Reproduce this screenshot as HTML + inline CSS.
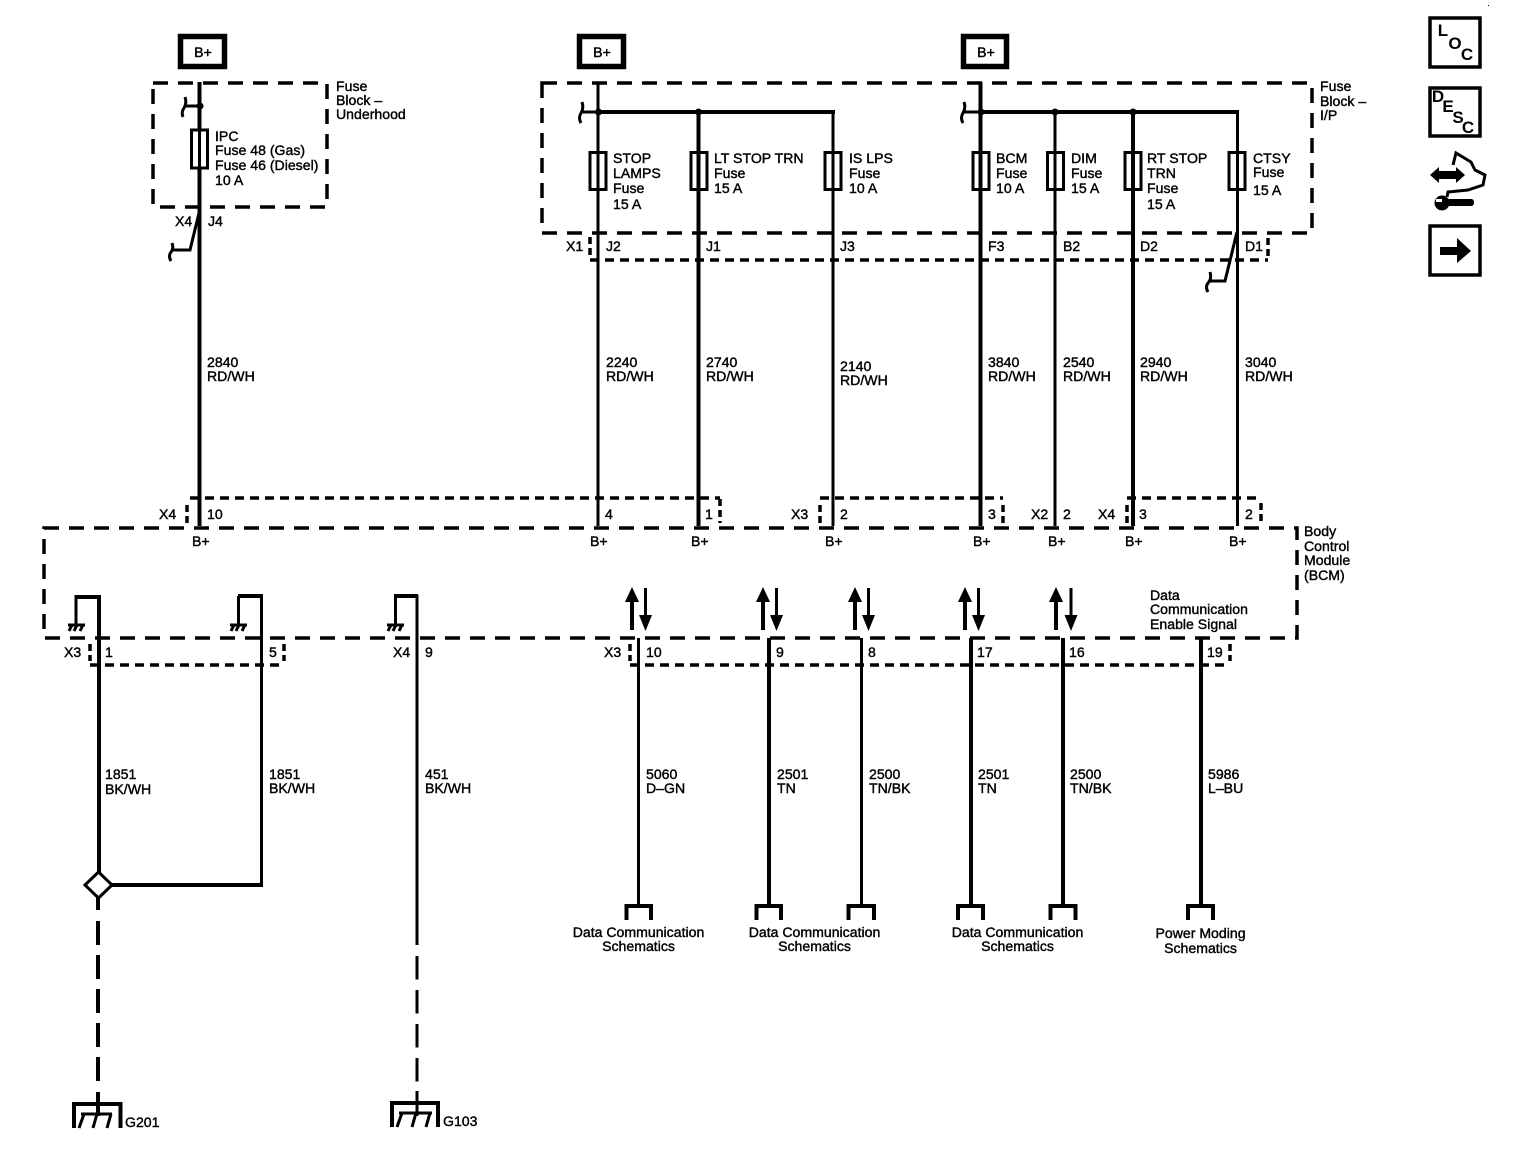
<!DOCTYPE html>
<html><head><meta charset="utf-8"><style>
html,body{margin:0;padding:0;background:#fff}
svg{display:block}
text{font-family:"Liberation Sans",sans-serif;font-size:14.1px;fill:#000;stroke:#000;stroke-width:.4}
.c{text-anchor:middle}
.w{fill:none;stroke:#000;stroke-width:3.5}
.t{fill:none;stroke:#000;stroke-width:4}
.n{fill:none;stroke:#000;stroke-width:3}
.d{fill:none;stroke:#000;stroke-width:3.5;stroke-dasharray:15 10}
.s{fill:none;stroke:#000;stroke-width:3.5;stroke-dasharray:9 6}
.k{fill:none;stroke:#000;stroke-width:3.5;stroke-dasharray:7 4}
.f{fill:#fff;stroke:#000;stroke-width:3}
.b{fill:#fff;stroke:#000;stroke-width:5.5}
.i{fill:#fff;stroke:#000;stroke-width:3.5}
.l{font-size:17px;font-weight:bold;stroke-width:0}
</style></head><body>
<svg width="1520" height="1160" viewBox="0 0 1520 1160" xmlns="http://www.w3.org/2000/svg">
<rect width="1520" height="1160" fill="#fff"/>

<!-- B+ boxes -->
<rect class="b" x="180.500" y="36.500" width="44" height="30"/>
<rect class="b" x="579.500" y="36.500" width="44" height="30"/>
<rect class="b" x="963.500" y="36.500" width="43" height="30"/>
<text class="c" x="203" y="57">B+</text>
<text class="c" x="602" y="57">B+</text>
<text class="c" x="986" y="57">B+</text>

<!-- Fuse blocks -->
<rect class="d" x="153" y="83" width="174" height="124"/>
<rect class="d" x="542" y="83" width="770" height="150"/>

<!-- BCM -->
<rect class="d" x="44" y="528" width="1253" height="110"/>

<!-- Connectors top -->
<path class="s" d="M590 260H1268"/>
<path class="k" d="M590 237V258M1268 238V260"/>
<path class="s" d="M190 498H720"/>
<path class="k" d="M187 505V523M720 499V523"/>
<path class="s" d="M820 498H1003"/>
<path class="k" d="M820 505V523M1003 505V523"/>
<path class="s" d="M1127 498H1261"/>
<path class="k" d="M1127 505V523M1261 503V521"/>

<!-- Connectors bottom -->
<path class="s" d="M90 665H285"/>
<path class="k" d="M90 644V661M284 644V661"/>
<path class="s" d="M630 665H1230"/>
<path class="k" d="M630 644V661M1230 644V661"/>

<!-- Wires upper -->
<path class="t" d="M199.500 82V526"/>
<path class="n" d="M598 82V526"/>
<path class="t" d="M698.500 112V526"/>
<path class="n" d="M833 112V526"/>
<path class="t" d="M980.500 82V526"/>
<path class="n" d="M1055 112V526"/>
<path class="t" d="M1133 112V526"/>
<path class="n" d="M1237.500 112V526"/>
<path class="t" d="M598 112H835M980 112H1239"/>

<!-- junctions -->
<circle cx="200" cy="106" r="3.500"/>
<circle cx="598.500" cy="112" r="3.500"/>
<circle cx="698.500" cy="112" r="3.500"/>
<circle cx="981" cy="112" r="3.500"/>
<circle cx="1055" cy="112" r="3.500"/>
<circle cx="1133" cy="112" r="3.500"/>

<!-- hooks -->
<path class="n" d="M200 106H185M185 97Q187 103 184 108Q181 112 183 117"/>
<path class="n" d="M598 112H581M582 102Q584 108 581 113Q578 118 581 123"/>
<path class="n" d="M980 112H963M964 102Q966 108 963 113Q960 118 963 123"/>
<path class="n" d="M200 209L190 250H172M172 243Q174 249 171 252Q168 256 171 261"/>
<path class="n" d="M1237 232L1225 281H1209M1210 272Q1212 279 1208 283Q1205 287 1208 292"/>

<!-- Fuses -->
<rect class="f" x="191.500" y="130" width="16" height="38"/><path class="n" d="M199.500 128V170"/>
<rect class="f" x="590" y="152.500" width="16" height="37"/><path class="n" d="M598 150V192"/>
<rect class="f" x="691" y="152.500" width="16" height="37"/><path class="t" d="M698.500 150V192"/>
<rect class="f" x="825" y="152.500" width="16" height="37"/><path class="n" d="M833 150V192"/>
<rect class="f" x="973" y="152.500" width="16" height="37"/><path class="t" d="M980.500 150V192"/>
<rect class="f" x="1047.500" y="152.500" width="16" height="37"/><path class="n" d="M1055 150V192"/>
<rect class="f" x="1125" y="152.500" width="16" height="37"/><path class="t" d="M1133 150V192"/>
<rect class="f" x="1229" y="152.500" width="16" height="37"/><path class="n" d="M1237.500 150V192"/>

<!-- Ground wires -->
<path class="t" d="M99 597H74.500"/>
<path class="n" d="M76 596V624"/>
<path class="t" d="M99 595V873"/>
<path class="n" d="M261.500 595V885"/>
<path class="t" d="M263 596H238"/>
<path class="n" d="M238.500 596V624"/>
<path class="n" d="M417 595V945"/>
<path class="t" d="M418 596H394"/>
<path class="n" d="M395.500 596V624"/>
<path class="n" d="M417 956V1082" stroke-dasharray="23.500 10.500"/>
<path class="n" d="M417 1091V1116"/>
<path class="t" d="M110 885H263"/>
<path class="t" d="M98 896V910"/>
<path class="t" d="M98 921V1082" stroke-dasharray="24 10"/>
<path class="t" d="M98 1092V1116"/>
<path class="f" d="M98.500 872L112 885L98.500 898L85 885Z"/>

<!-- inner ground symbols -->
<path class="n" d="M68 625H85M72 625L69 631M77 625L74 631M83 625L80 631"/>
<path class="n" d="M230 625H247M234 625L231 631M239 625L236 631M245 625L242 631"/>
<path class="n" d="M387 625H404M391 625L388 631M396 625L393 631M402 625L399 631"/>

<!-- Grounds -->
<path class="t" d="M74 1128V1104H120.500V1128"/>
<path class="n" d="M81 1114H112M84 1114L79 1128M97 1114L93 1128M111 1114L107 1128"/>
<path class="t" d="M392 1127V1103H438V1127"/>
<path class="n" d="M399 1113H432M402 1113L397 1127M416 1113L412 1127M430 1113L426 1127"/>

<!-- Data wires -->
<path class="n" d="M638.500 638V905"/>
<path class="t" d="M769 638V905"/>
<path class="n" d="M861.500 638V905"/>
<path class="t" d="M971 638V905"/>
<path class="t" d="M1063 638V905"/>
<path class="t" d="M1201 638V905"/>
<!-- forks -->
<path class="t" d="M626.500 920V906H651V920"/>
<path class="t" d="M756.500 920V906H781V920"/>
<path class="t" d="M848.500 920V906H874V920"/>
<path class="t" d="M958 920V906H983V920"/>
<path class="t" d="M1050.500 920V906H1075.500V920"/>
<path class="t" d="M1188 920V906H1213V920"/>

<!-- bidirectional arrows -->
<path class="t" d="M632 630V595"/><path d="M632 587L639 602H625Z"/><path class="n" d="M645.500 588V620"/><path d="M645.500 631L639 615H652Z"/>
<path class="t" d="M763 630V595"/><path d="M763 587L770 602H756Z"/><path class="n" d="M776.500 588V620"/><path d="M776.500 631L770 615H783Z"/>
<path class="t" d="M855 630V595"/><path d="M855 587L862 602H848Z"/><path class="n" d="M868.500 588V620"/><path d="M868.500 631L862 615H875Z"/>
<path class="t" d="M965 630V595"/><path d="M965 587L972 602H958Z"/><path class="n" d="M978.500 588V620"/><path d="M978.500 631L972 615H985Z"/>
<path class="t" d="M1056 630V595"/><path d="M1056 587L1063 602H1049Z"/><path class="n" d="M1071 588V620"/><path d="M1071 631L1064.500 615H1077.500Z"/>

<!-- Labels: fuse block -->
<text x="336" y="91">Fuse</text><text x="336" y="105">Block –</text><text x="336" y="119">Underhood</text>
<text x="215" y="141">IPC</text><text x="215" y="155">Fuse 48 (Gas)</text><text x="215" y="170">Fuse 46 (Diesel)</text><text x="215" y="185">10 A</text>
<text x="175" y="226">X4</text><text x="208" y="226">J4</text>
<text x="1320" y="91">Fuse</text><text x="1320" y="106">Block –</text><text x="1320" y="120">I/P</text>

<text x="613" y="163">STOP</text><text x="613" y="178">LAMPS</text><text x="613" y="193">Fuse</text><text x="613" y="209">15 A</text>
<text x="714" y="163">LT STOP TRN</text><text x="714" y="178">Fuse</text><text x="714" y="193">15 A</text>
<text x="849" y="163">IS LPS</text><text x="849" y="178">Fuse</text><text x="849" y="193">10 A</text>
<text x="996" y="163">BCM</text><text x="996" y="178">Fuse</text><text x="996" y="193">10 A</text>
<text x="1071" y="163">DIM</text><text x="1071" y="178">Fuse</text><text x="1071" y="193">15 A</text>
<text x="1147" y="163">RT STOP</text><text x="1147" y="178">TRN</text><text x="1147" y="193">Fuse</text><text x="1147" y="209">15 A</text>
<text x="1253" y="163">CTSY</text><text x="1253" y="177">Fuse</text><text x="1253" y="195">15 A</text>

<text x="566" y="251">X1</text><text x="606" y="251">J2</text><text x="706" y="251">J1</text><text x="840" y="251">J3</text>
<text x="988" y="251">F3</text><text x="1063" y="251">B2</text><text x="1140" y="251">D2</text><text x="1245" y="251">D1</text>

<!-- wire labels -->
<text x="207" y="367">2840</text><text x="207" y="381">RD/WH</text>
<text x="606" y="367">2240</text><text x="606" y="381">RD/WH</text>
<text x="706" y="367">2740</text><text x="706" y="381">RD/WH</text>
<text x="840" y="371">2140</text><text x="840" y="385">RD/WH</text>
<text x="988" y="367">3840</text><text x="988" y="381">RD/WH</text>
<text x="1063" y="367">2540</text><text x="1063" y="381">RD/WH</text>
<text x="1140" y="367">2940</text><text x="1140" y="381">RD/WH</text>
<text x="1245" y="367">3040</text><text x="1245" y="381">RD/WH</text>

<!-- upper connector labels -->
<text x="159" y="519">X4</text><text x="207" y="519">10</text><text x="605" y="519">4</text><text x="705" y="519">1</text>
<text x="791" y="519">X3</text><text x="840" y="519">2</text><text x="988" y="519">3</text>
<text x="1031" y="519">X2</text><text x="1063" y="519">2</text><text x="1098" y="519">X4</text><text x="1139" y="519">3</text><text x="1245" y="519">2</text>

<text x="192" y="546">B+</text><text x="590" y="546">B+</text><text x="691" y="546">B+</text><text x="825" y="546">B+</text>
<text x="973" y="546">B+</text><text x="1048" y="546">B+</text><text x="1125" y="546">B+</text><text x="1229" y="546">B+</text>

<text x="1304" y="536">Body</text><text x="1304" y="551">Control</text><text x="1304" y="565">Module</text><text x="1304" y="580">(BCM)</text>
<text x="1150" y="600">Data</text><text x="1150" y="614">Communication</text><text x="1150" y="629">Enable Signal</text>

<!-- lower connector labels -->
<text x="64" y="657">X3</text><text x="105" y="657">1</text><text x="269" y="657">5</text>
<text x="393" y="657">X4</text><text x="425" y="657">9</text>
<text x="604" y="657">X3</text><text x="646" y="657">10</text><text x="776" y="657">9</text><text x="868" y="657">8</text>
<text x="977" y="657">17</text><text x="1069" y="657">16</text><text x="1207" y="657">19</text>

<text x="105" y="779">1851</text><text x="105" y="794">BK/WH</text>
<text x="269" y="779">1851</text><text x="269" y="793">BK/WH</text>
<text x="425" y="779">451</text><text x="425" y="793">BK/WH</text>
<text x="646" y="779">5060</text><text x="646" y="793">D–GN</text>
<text x="777" y="779">2501</text><text x="777" y="793">TN</text>
<text x="869" y="779">2500</text><text x="869" y="793">TN/BK</text>
<text x="978" y="779">2501</text><text x="978" y="793">TN</text>
<text x="1070" y="779">2500</text><text x="1070" y="793">TN/BK</text>
<text x="1208" y="779">5986</text><text x="1208" y="793">L–BU</text>

<text class="c" x="638.500" y="937">Data Communication</text><text class="c" x="638.500" y="951">Schematics</text>
<text class="c" x="814.500" y="937">Data Communication</text><text class="c" x="814.500" y="951">Schematics</text>
<text class="c" x="1017.500" y="937">Data Communication</text><text class="c" x="1017.500" y="951">Schematics</text>
<text class="c" x="1200.500" y="938">Power Moding</text><text class="c" x="1200.500" y="953">Schematics</text>

<text x="125" y="1127">G201</text><text x="443" y="1126">G103</text>

<!-- Icons -->
<rect class="i" x="1430" y="18" width="50" height="49"/>
<text class="c l" x="1443" y="36">L</text><text class="c l" x="1455" y="49">O</text><text class="c l" x="1467" y="60">C</text>
<rect class="i" x="1430" y="88" width="50" height="48"/>
<text class="c l" x="1438" y="102">D</text><text class="c l" x="1448" y="112">E</text><text class="c l" x="1458" y="123">S</text><text class="c l" x="1468" y="133">C</text>
<path d="M1430 175L1439 167V171H1456V167L1465 175L1456 183V179H1439V183Z"/>
<path class="n" d="M1453 165L1456 153L1471 162L1475 170L1485 175L1483 185L1468 190L1448 192L1447 197"/>
<circle cx="1442" cy="203" r="7.500"/>
<rect x="1436" y="199" width="6" height="3" fill="#fff"/>
<path d="M1446 199H1471Q1474 199 1474 202.500Q1474 206 1471 206H1446Z"/>
<rect class="i" x="1430" y="226" width="50" height="49"/>
<path d="M1440 247H1457V238L1471 251L1457 263V255H1440Z"/>
<rect x="1488" y="5" width="1" height="1"/>
</svg>
</body></html>
